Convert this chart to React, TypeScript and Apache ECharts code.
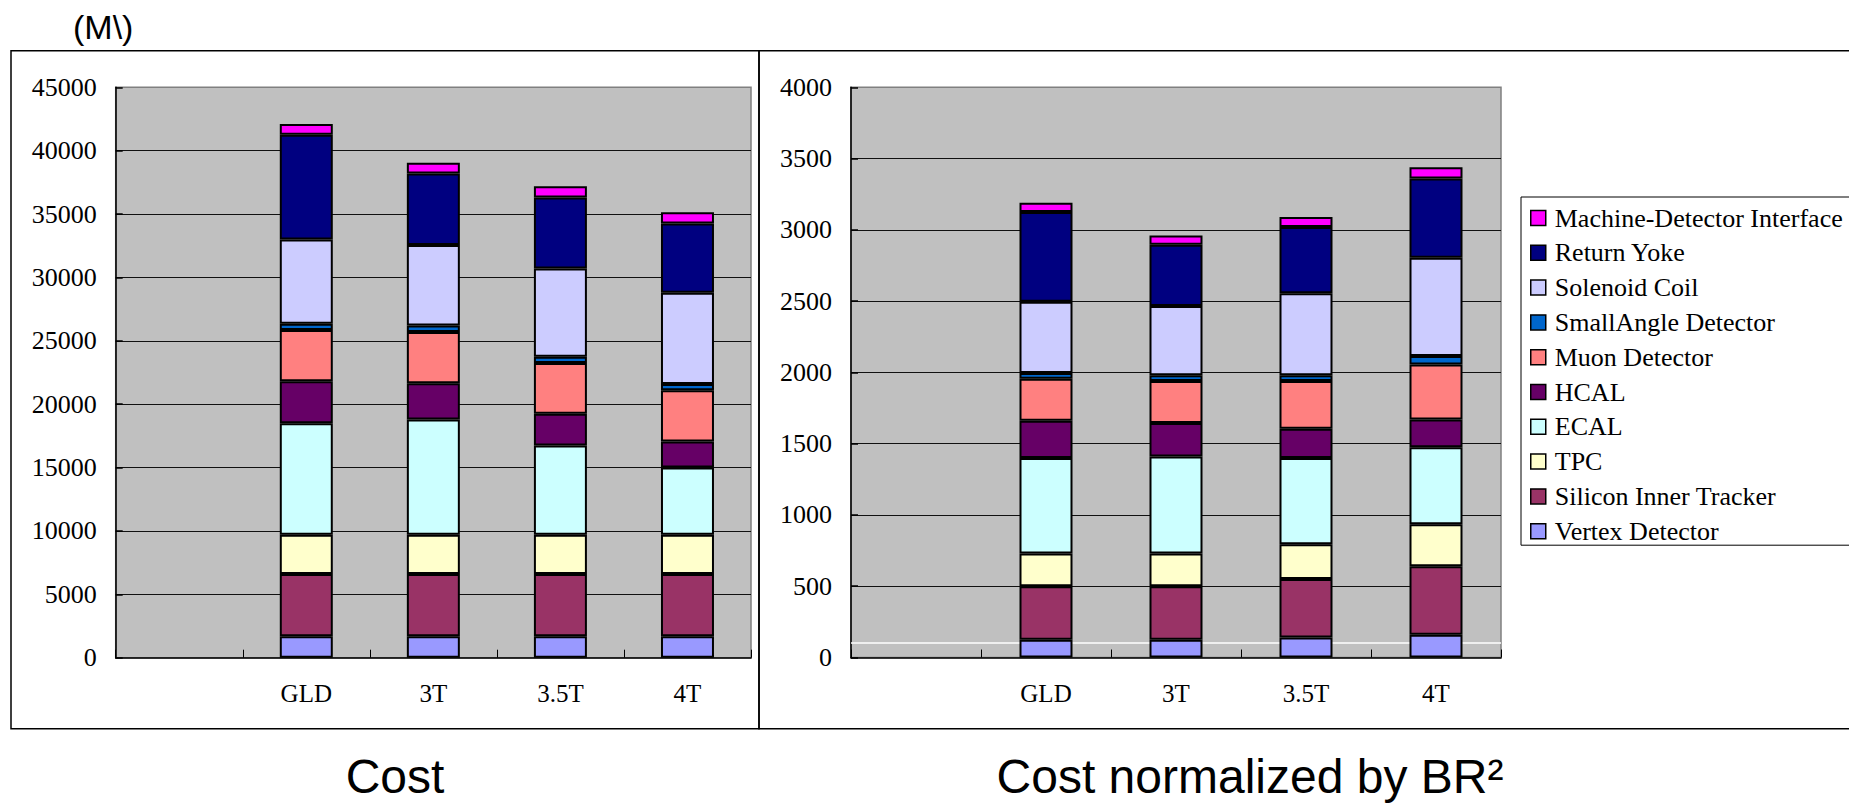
import React, { useEffect, useRef } from "react";
import * as echarts from "echarts";

// Detector configurations along the x axis (first slot left empty)
const categories = ["", "GLD", "3T", "3.5T", "4T"];

// Stack order from bottom to top
const componentNames = [
  "Vertex Detector",
  "Silicon Inner Tracker",
  "TPC",
  "ECAL",
  "HCAL",
  "Muon Detector",
  "SmallAngle Detector",
  "Solenoid Coil",
  "Return Yoke",
  "Machine-Detector Interface",
];

const componentColors = [
  "#9999FF",
  "#993366",
  "#FFFFCC",
  "#CCFFFF",
  "#660066",
  "#FF8080",
  "#0066CC",
  "#CCCCFF",
  "#000080",
  "#FF00FF",
];

// Cost (M\) per component
const vertexCost = [null, 1700, 1700, 1700, 1700];
const siliconCost = [null, 4900, 4900, 4900, 4900];
const tpcCost = [null, 3100, 3100, 3100, 3100];
const ecalCost = [null, 8800, 9100, 7050, 5300];
const hcalCost = [null, 3300, 2850, 2500, 2050];
const muonCost = [null, 4050, 4050, 4000, 4050];
const smallAngleCost = [null, 500, 500, 500, 500];
const solenoidCost = [null, 6650, 6350, 6950, 7200];
const yokeCost = [null, 8250, 5650, 5600, 5450];
const mdiCost = [null, 850, 850, 900, 900];

// Cost normalized by B·R^2
const vertexNorm = [null, 125, 125, 140, 160];
const siliconNorm = [null, 375, 375, 410, 480];
const tpcNorm = [null, 230, 230, 245, 295];
const ecalNorm = [null, 670, 680, 605, 540];
const hcalNorm = [null, 260, 235, 205, 195];
const muonNorm = [null, 295, 295, 335, 385];
const smallAngleNorm = [null, 40, 40, 40, 60];
const solenoidNorm = [null, 500, 485, 575, 690];
const yokeNorm = [null, 630, 430, 465, 555];
const mdiNorm = [null, 65, 65, 70, 80];

// Reference level marked on the normalized chart
const normReferenceLevel = 100;

const costTicks = { min: 0, max: 45000, interval: 5000 };
const normTicks = { min: 0, max: 4000, interval: 500 };

const costData = [
  vertexCost, siliconCost, tpcCost, ecalCost, hcalCost,
  muonCost, smallAngleCost, solenoidCost, yokeCost, mdiCost,
];
const normData = [
  vertexNorm, siliconNorm, tpcNorm, ecalNorm, hcalNorm,
  muonNorm, smallAngleNorm, solenoidNorm, yokeNorm, mdiNorm,
];

const SERIF = "'Liberation Serif', 'Times New Roman', serif";
const SANS = "'Liberation Sans', Arial, sans-serif";

function xAxisFor(gridIndex: number) {
  return {
    type: "category",
    gridIndex,
    data: categories,
    boundaryGap: true,
    axisLine: { show: true, lineStyle: { color: "#000", width: 1.5 } },
    axisTick: { show: true, inside: true, length: 8, lineStyle: { color: "#000", width: 1 } },
    axisLabel: { color: "#000", fontFamily: SERIF, fontSize: 25, margin: 23 },
    splitLine: { show: false },
  };
}

function yAxisFor(gridIndex: number, ticks: { min: number; max: number; interval: number }) {
  return {
    type: "value",
    gridIndex,
    min: ticks.min,
    max: ticks.max,
    interval: ticks.interval,
    axisLine: { show: true, lineStyle: { color: "#000", width: 1.5 } },
    axisTick: { show: true, inside: true, length: 7, lineStyle: { color: "#000", width: 1.5 } },
    axisLabel: {
      color: "#000",
      fontFamily: SERIF,
      fontSize: 26,
      margin: 19,
      formatter: (v: number) => String(v),
    },
    splitLine: {
      show: true,
      showMinLine: false,
      showMaxLine: false,
      lineStyle: { color: "#111", width: 1 },
    },
  };
}

function barSeries(data: (number | null)[][], axisIndex: number, stack: string) {
  return data.map((values, i) => ({
    name: componentNames[i],
    type: "bar",
    stack,
    xAxisIndex: axisIndex,
    yAxisIndex: axisIndex,
    barWidth: 53,
    z: 3,
    data: values,
    itemStyle: {
      color: componentColors[i],
      borderColor: "#000",
      borderWidth: 2,
    },
  }));
}

export default function App() {
  const ref = useRef<HTMLDivElement>(null);

  useEffect(() => {
    if (!ref.current) return;
    const chart = echarts.init(ref.current, undefined, { renderer: "svg" });

    const gridCommon = {
      show: true,
      backgroundColor: "#C0C0C0",
      borderColor: "#808080",
      borderWidth: 1.5,
      containLabel: false,
    };

    chart.setOption({
      animation: false,
      backgroundColor: "#fff",
      grid: [
        { ...gridCommon, left: 115.7, top: 87.3, width: 635.3, height: 570.4 },
        { ...gridCommon, left: 851, top: 87.3, width: 650, height: 570.2 },
      ],
      xAxis: [xAxisFor(0), xAxisFor(1)],
      yAxis: [yAxisFor(0, costTicks), yAxisFor(1, normTicks)],
      legend: {
        data: [...componentNames].reverse(),
        orient: "vertical",
        left: 1521,
        top: 197,
        padding: [8, 80, 1, 9],
        itemGap: 8.8,
        itemWidth: 15,
        itemHeight: 15,
        icon: "rect",
        selectedMode: false,
        borderColor: "#000",
        borderWidth: 1,
        backgroundColor: "#fff",
        textStyle: {
          fontFamily: SERIF,
          fontSize: 26,
          lineHeight: 26,
          color: "#000",
          padding: [0, 0, 0, 4],
        },
        itemStyle: { borderColor: "#000", borderWidth: 1.5 },
      },
      graphic: [
        {
          type: "rect",
          shape: { x: 11, y: 50.7, width: 748, height: 678 },
          style: { fill: "none", stroke: "#000", lineWidth: 1.5 },
          z: -1,
        },
        {
          type: "rect",
          shape: { x: 759, y: 50.7, width: 1120, height: 678 },
          style: { fill: "none", stroke: "#000", lineWidth: 1.5 },
          z: -1,
        },
        {
          type: "text",
          x: 73,
          y: 27,
          style: {
            text: "(M\\)",
            fontFamily: SANS,
            fontSize: 34,
            fill: "#000",
            textAlign: "left",
            textVerticalAlign: "middle",
          },
        },
        {
          type: "text",
          x: 395,
          y: 776,
          style: {
            text: "Cost",
            fontFamily: SANS,
            fontSize: 48,
            fill: "#000",
            textAlign: "center",
            textVerticalAlign: "middle",
          },
        },
        {
          type: "text",
          x: 1250,
          y: 776,
          style: {
            text: "Cost normalized by BR²",
            fontFamily: SANS,
            fontSize: 48,
            fill: "#000",
            textAlign: "center",
            textVerticalAlign: "middle",
          },
        },
      ],
      series: [
        ...barSeries(costData, 0, "cost"),
        ...barSeries(normData, 1, "norm"),
        {
          type: "line",
          xAxisIndex: 1,
          yAxisIndex: 1,
          data: [],
          z: 1,
          markLine: {
            silent: true,
            z: 1,
            symbol: "none",
            label: { show: false },
            lineStyle: { color: "#fff", type: "solid", width: 1.5 },
            data: [{ yAxis: normReferenceLevel }],
          },
        },
      ],
    });

    return () => chart.dispose();
  }, []);

  return (
    <div
      ref={ref}
      style={{ position: "fixed", left: 0, top: 0, width: 1849, height: 803 }}
    />
  );
}
